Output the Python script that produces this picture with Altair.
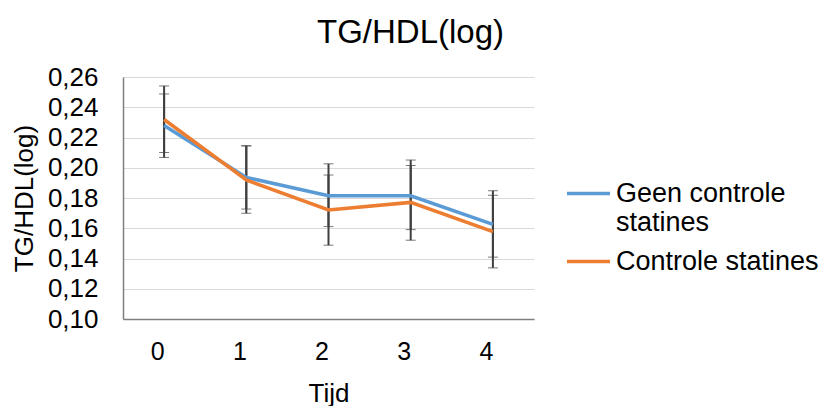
import altair as alt
import pandas as pd

tijd = [0, 1, 2, 3, 4]
series_names = ["Geen controle statines", "Controle statines"]
geen_mean = [0.228, 0.1936, 0.1815, 0.1815, 0.1626]
geen_low = [0.2068, 0.1727, 0.1611, 0.1591, 0.1409]
geen_high = [0.2488, 0.2145, 0.2026, 0.2051, 0.1848]
ctrl_mean = [0.2319, 0.1919, 0.1721, 0.1771, 0.1578]
ctrl_low = [0.2101, 0.1699, 0.1488, 0.1521, 0.1338]
ctrl_high = [0.2541, 0.2145, 0.1952, 0.2015, 0.1818]
colors = ["#5B9BD5", "#ED7D31"]
y_ticks = [0.10, 0.12, 0.14, 0.16, 0.18, 0.20, 0.22, 0.24, 0.26]

rows = []
for name, m, lo, hi in [(series_names[0], geen_mean, geen_low, geen_high),
                        (series_names[1], ctrl_mean, ctrl_low, ctrl_high)]:
    for t, a, b, c in zip(tijd, m, lo, hi):
        rows.append({"Tijd": str(t), "serie": name, "v": a, "lo": b, "hi": c})
df = pd.DataFrame(rows)

FONT = "Liberation Sans"
xscale = alt.Scale(type="point", padding=0.5)
xsort = [str(t) for t in tijd]
x = alt.X("Tijd:N", sort=xsort, title="Tijd", scale=xscale,
          axis=alt.Axis(labelAngle=0, ticks=False, grid=False, domainColor="#7f7f7f",
                        domainWidth=1.5, labelFontSize=25, labelPadding=32,
                        titleFontSize=26, titlePadding=16, titleFontWeight="normal",
                        labelFont=FONT, titleFont=FONT, labelColor="#000", titleColor="#000"))
yscale = alt.Scale(domain=[0.10, 0.26], nice=False, zero=False)
yaxis = alt.Axis(values=y_ticks, tickCount=12, format=".2f", labelOverlap=False,
                 labelExpr="replace(datum.label, '.', ',')",
                 ticks=False, grid=True, gridColor="#d9d9d9", gridWidth=1.2,
                 domainColor="#7f7f7f", domainWidth=1.5,
                 labelFontSize=26, labelPadding=25, titleFontSize=26,
                 titlePadding=10, titleFontWeight="normal",
                 labelFont=FONT, titleFont=FONT, labelColor="#000", titleColor="#000")
y = alt.Y("v:Q", title="TG/HDL(log)", scale=yscale, axis=yaxis)

color = alt.Color("serie:N", sort=series_names,
                  scale=alt.Scale(domain=series_names, range=colors),
                  legend=alt.Legend(title=None, orient="none", legendX=442, legendY=93,
                                    symbolType="stroke", symbolSize=1850,
                                    symbolStrokeWidth=3.5, labelFontSize=27,
                                    labelFont=FONT, labelColor="#000",
                                    labelLimit=350, rowPadding=2, labelOffset=4,
                                    labelExpr="datum.label == 'Geen controle statines' ? ['Geen controle', 'statines'] : datum.label"))

base = alt.Chart(df)
lines = base.mark_line(strokeWidth=3.5).encode(x=x, y=y, color=color)
err = base.mark_errorbar(ticks=alt.MarkConfig(size=10, color="#404040", strokeWidth=2),
                         rule=alt.MarkConfig(color="#404040", strokeWidth=2)).encode(
    x=alt.X("Tijd:N", sort=xsort, scale=xscale),
    y=alt.Y("lo:Q", scale=yscale, title="TG/HDL(log)", axis=yaxis),
    y2="hi:Q",
    detail="serie:N",
)

chart = alt.layer(err, lines).properties(
    width=411, height=242,
    title=alt.TitleParams("TG/HDL(log)", fontSize=33, font=FONT, fontWeight="normal",
                          color="#000", anchor="middle", offset=14, dx=82),
    autosize=alt.AutoSizeParams(type="none"),
    padding={"left": 115, "top": 69, "right": 285, "bottom": 100},
).configure_view(stroke=None)

chart.save("out.html", embed_options={"renderer": "svg", "actions": False})
